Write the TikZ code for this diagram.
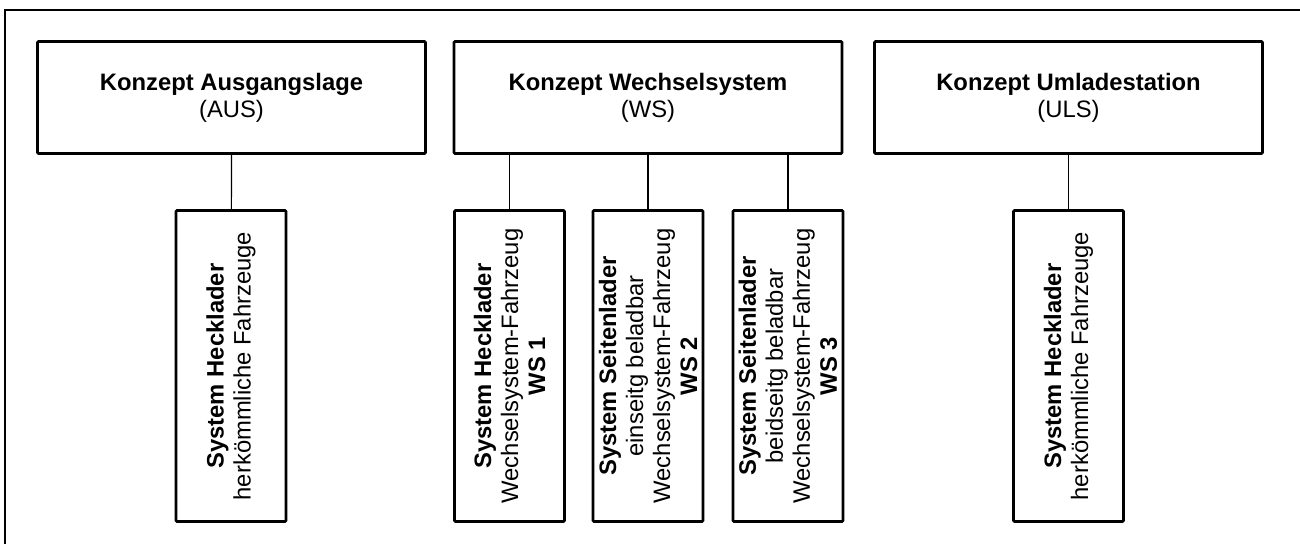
\documentclass[tikz,border=0pt]{standalone}
\usepackage{fontspec}
\setmainfont{Liberation Sans}
\begin{document}
\begin{tikzpicture}[x=0.75pt,y=-0.75pt,
  every node/.style={font=\fontsize{17.85pt}{20.25pt}\selectfont, inner sep=0pt, outer sep=0pt},
  topbox/.style={draw, line width=2pt, rounded corners=0.8pt, minimum width={388*0.75pt}, minimum height={112*0.75pt}, align=center},
  subbox/.style={draw, line width=2pt, rounded corners=0.8pt, rotate=90, minimum width={311*0.75pt}, minimum height={110*0.75pt}, align=center},
  link/.style={line width=0.9pt},
  frame/.style={line width=1.5pt}]
\useasboundingbox (0,0) rectangle (1300,544);
\draw[frame] (1300,10) -- (5,10) -- (5,544);

\node[topbox] (aus) at (231.5,97.5) {\textbf{Konzept Ausgangslage}\\(AUS)};
\node[topbox] (ws)  at (648,97.5)   {\textbf{Konzept Wechselsystem}\\(WS)};
\node[topbox] (uls) at (1068.5,97.5){\textbf{Konzept Umladestation}\\(ULS)};

\node[subbox] (aus1) at (231,366)   {\textbf{System Hecklader}\\herkömmliche Fahrzeuge};
\node[subbox] (ws1)  at (509.5,366) {\textbf{System Hecklader}\\Wechselsystem-Fahrzeug\\\textbf{WS 1}};
\node[subbox] (ws2)  at (648,366)   {\textbf{System Seitenlader}\\einseitg beladbar\\Wechselsystem-Fahrzeug\\\textbf{WS 2}};
\node[subbox] (ws3)  at (788,366)   {\textbf{System Seitenlader}\\beidseitg beladbar\\Wechselsystem-Fahrzeug\\\textbf{WS 3}};
\node[subbox] (uls1) at (1068.5,366){\textbf{System Hecklader}\\herkömmliche Fahrzeuge};

\draw[link] (aus.south) -- (aus1);
\draw[link] (ws1) -- (ws1 |- ws.south);
\draw[link] (ws2) -- (ws2 |- ws.south);
\draw[link] (ws3) -- (ws3 |- ws.south);
\draw[link] (uls.south) -- (uls1);
\end{tikzpicture}
\end{document}
